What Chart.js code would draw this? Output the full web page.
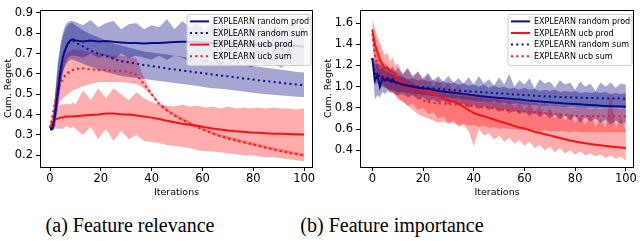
<!DOCTYPE html>
<html>
<head>
<meta charset="utf-8">
<script src="https://cdn.jsdelivr.net/npm/chart.js@4.4.1/dist/chart.umd.min.js"></script>
<style>
  html, body { margin: 0; padding: 0; background: #fff; }
  #wrap { position: relative; width: 640px; height: 241px; overflow: hidden; }
  canvas { position: absolute; top: 0; }
  .cap { position: absolute; top: 215px; font: 20px "Liberation Serif", "Times New Roman", serif; line-height: 20px; text-align: center; white-space: nowrap; color: #000; }
</style>
</head>
<body>
<div id="wrap">
  <canvas id="relevance" width="320" height="200" style="left:0"></canvas>
  <canvas id="importance" width="320" height="200" style="left:320px"></canvas>
  <div class="cap" style="left:30px;width:200px">(a) Feature relevance</div>
  <div class="cap" style="left:292px;width:200px">(b) Feature importance</div>
</div>
<script>
// (a) feature relevance
const relIters = [0,1,2,3,4,5,6,7,8,9,10,13,16,19,22,25,28,31,34,37,40,43,46,49,52,55,58,61,64,67,70,73,76,79,82,85,88,91,94,97,100];
const relRandomProd = [0.33,0.33,0.40,0.50,0.60,0.68,0.72,0.75,0.765,0.77,0.765,
  0.76,0.765,0.76,0.762,0.758,0.755,0.752,0.752,0.75,0.752,
  0.752,0.755,0.757,0.758,0.758,0.757,0.755,0.752,0.75,0.75,
  0.748,0.747,0.745,0.745,0.743,0.742,0.74,0.738,0.737,0.735];
const relRandomSum = [0.33,0.33,0.40,0.50,0.60,0.68,0.72,0.745,0.76,0.765,0.755,
  0.735,0.715,0.70,0.688,0.675,0.663,0.657,0.65,0.644,0.638,
  0.633,0.627,0.622,0.617,0.612,0.607,0.602,0.597,0.592,0.588,
  0.583,0.578,0.574,0.569,0.565,0.56,0.556,0.552,0.548,0.545];
const relUcbProd = [0.335,0.36,0.375,0.38,0.385,0.385,0.39,0.39,0.39,0.39,0.392,
  0.395,0.398,0.40,0.405,0.405,0.402,0.40,0.395,0.39,0.385,
  0.378,0.37,0.362,0.355,0.35,0.345,0.338,0.332,0.327,0.322,
  0.318,0.315,0.312,0.31,0.308,0.306,0.305,0.304,0.303,0.302];
const relUcbSum = [0.335,0.40,0.46,0.51,0.55,0.575,0.595,0.605,0.615,0.62,0.625,
  0.627,0.622,0.62,0.618,0.616,0.614,0.61,0.595,0.55,0.50,
  0.45,0.42,0.395,0.375,0.355,0.338,0.322,0.307,0.293,0.283,
  0.273,0.264,0.255,0.246,0.237,0.228,0.22,0.212,0.205,0.198];
const relRandomProdHi = [0.34,0.35,0.50,0.65,0.74,0.80,0.84,0.855,0.86,0.86,0.855,
  0.84,0.865,0.83,0.85,0.86,0.82,0.845,0.85,0.82,0.84,
  0.83,0.87,0.82,0.86,0.83,0.85,0.81,0.86,0.82,0.85,
  0.80,0.84,0.82,0.85,0.81,0.84,0.82,0.85,0.81,0.83];
const relRandomProdLo = [0.32,0.32,0.34,0.42,0.52,0.60,0.65,0.68,0.69,0.69,0.69,
  0.68,0.70,0.68,0.69,0.67,0.70,0.68,0.69,0.68,0.67,
  0.69,0.67,0.69,0.68,0.66,0.68,0.65,0.68,0.64,0.67,
  0.65,0.66,0.63,0.66,0.64,0.65,0.63,0.65,0.64,0.64];
const relRandomSumHi = [0.34,0.34,0.48,0.63,0.72,0.78,0.82,0.84,0.85,0.85,0.84,
  0.815,0.795,0.78,0.765,0.75,0.74,0.73,0.72,0.71,0.705,
  0.70,0.695,0.69,0.685,0.68,0.675,0.67,0.665,0.66,0.655,
  0.65,0.645,0.64,0.635,0.63,0.625,0.62,0.615,0.61,0.607];
const relRandomSumLo = [0.32,0.32,0.36,0.46,0.55,0.61,0.64,0.66,0.67,0.67,0.665,
  0.65,0.635,0.62,0.61,0.60,0.59,0.585,0.58,0.575,0.57,
  0.565,0.56,0.555,0.55,0.545,0.54,0.535,0.53,0.527,0.523,
  0.518,0.513,0.508,0.504,0.50,0.497,0.494,0.491,0.488,0.486];
const relUcbProdHi = [0.34,0.40,0.43,0.44,0.45,0.45,0.45,0.455,0.45,0.46,0.45,
  0.52,0.47,0.53,0.48,0.53,0.50,0.47,0.51,0.48,0.46,
  0.45,0.445,0.44,0.45,0.44,0.445,0.435,0.44,0.43,0.44,
  0.43,0.435,0.43,0.435,0.43,0.435,0.43,0.43,0.425,0.43];
const relUcbProdLo = [0.33,0.33,0.33,0.33,0.33,0.33,0.34,0.34,0.33,0.34,0.33,
  0.30,0.34,0.28,0.33,0.27,0.32,0.28,0.30,0.27,0.265,
  0.26,0.25,0.245,0.24,0.235,0.225,0.22,0.218,0.215,0.21,
  0.205,0.20,0.20,0.195,0.19,0.19,0.185,0.18,0.175,0.17];
const relUcbSumHi = [0.34,0.40,0.50,0.59,0.64,0.67,0.69,0.705,0.715,0.72,0.72,
  0.715,0.705,0.70,0.695,0.69,0.69,0.685,0.675,0.58,0.51,
  0.46,0.43,0.405,0.385,0.365,0.348,0.332,0.317,0.303,0.293,
  0.283,0.274,0.265,0.256,0.247,0.238,0.23,0.222,0.215,0.208];
const relUcbSumLo = [0.33,0.34,0.39,0.44,0.46,0.48,0.49,0.50,0.51,0.52,0.525,
  0.54,0.55,0.56,0.56,0.56,0.56,0.555,0.55,0.53,0.49,
  0.445,0.415,0.39,0.37,0.35,0.333,0.317,0.302,0.288,0.278,
  0.268,0.259,0.25,0.241,0.232,0.223,0.215,0.207,0.2,0.193];

// (b) feature importance
const impIters = [0,1,2,3,4,5,6,7,8,9,10,12,14,16,18,20,22,24,26,28,30,32,34,36,38,40,42,44,46,48,50,
  52,54,56,58,60,62,64,66,68,70,72,74,76,78,80,82,84,86,88,90,92,94,96,98,100];
const impRandomProd = [1.27,1.06,1.11,1.0,1.08,1.06,1.08,1.05,1.07,1.04,1.04,
  1.02,1.01,1.0,0.99,0.985,0.98,0.97,0.96,0.955,0.948,
  0.942,0.937,0.932,0.925,0.918,0.912,0.907,0.902,0.898,0.894,
  0.89,0.886,0.882,0.878,0.873,0.868,0.864,0.86,0.856,0.852,
  0.848,0.845,0.842,0.839,0.836,0.833,0.83,0.827,0.824,0.821,
  0.818,0.816,0.814,0.812,0.81];
const impRandomSum = [1.27,1.12,1.13,1.08,1.09,1.07,1.06,1.05,1.045,1.04,1.03,
  1.02,1.01,1.005,1.0,0.995,0.99,0.985,0.98,0.975,0.97,
  0.967,0.963,0.96,0.957,0.954,0.95,0.947,0.944,0.94,0.937,
  0.934,0.93,0.927,0.924,0.921,0.918,0.915,0.912,0.91,0.907,
  0.905,0.903,0.901,0.899,0.897,0.895,0.894,0.893,0.892,0.891,
  0.89,0.889,0.888,0.887,0.886];
const impUcbProd = [1.54,1.40,1.33,1.25,1.21,1.18,1.17,1.15,1.14,1.13,1.06,
  1.03,1.01,0.99,0.975,0.955,0.94,0.93,0.915,0.89,0.87,
  0.86,0.84,0.81,0.78,0.75,0.735,0.72,0.705,0.69,0.675,
  0.66,0.645,0.63,0.615,0.605,0.59,0.575,0.565,0.55,0.54,
  0.528,0.515,0.503,0.492,0.482,0.473,0.465,0.458,0.452,0.446,
  0.44,0.435,0.43,0.425,0.42];
const impUcbSum = [1.50,1.30,1.22,1.18,1.14,1.12,1.10,1.09,1.07,1.05,1.03,
  1.0,0.97,0.94,0.90,0.87,0.855,0.847,0.842,0.84,0.836,
  0.834,0.832,0.828,0.822,0.815,0.81,0.805,0.8,0.795,0.788,
  0.783,0.778,0.773,0.768,0.764,0.76,0.756,0.752,0.748,0.744,
  0.74,0.736,0.732,0.728,0.725,0.724,0.723,0.722,0.721,0.72,
  0.72,0.72,0.72,0.72,0.72];
const impRandomProdHi = [1.28,1.25,1.22,1.2,1.22,1.18,1.2,1.16,1.19,1.15,1.18,
  1.12,1.17,1.1,1.14,1.08,1.13,1.06,1.1,1.05,1.1,
  1.04,1.08,1.03,1.09,1.02,1.1,1.03,1.07,1.01,1.09,
  1.02,1.12,1.0,1.06,1.02,1.08,0.98,1.07,1.03,1.05,
  0.99,1.06,1.02,1.04,0.97,1.05,1.0,1.03,0.96,1.04,
  1.0,1.04,0.99,1.03,1.02];
const impRandomProdLo = [1.26,0.88,0.92,0.9,0.95,0.93,0.96,0.94,0.95,0.93,0.92,
  0.93,0.9,0.92,0.88,0.9,0.86,0.88,0.85,0.87,0.83,
  0.86,0.82,0.84,0.8,0.83,0.79,0.82,0.78,0.8,0.76,
  0.79,0.75,0.78,0.74,0.77,0.72,0.76,0.71,0.75,0.7,
  0.74,0.69,0.73,0.68,0.72,0.66,0.71,0.67,0.7,0.66,
  0.69,0.64,0.68,0.65,0.66];
const impRandomSumHi = [1.28,1.2,1.22,1.16,1.18,1.15,1.14,1.13,1.12,1.11,1.1,
  1.09,1.07,1.08,1.06,1.07,1.05,1.06,1.04,1.05,1.03,
  1.04,1.02,1.03,1.01,1.02,1.0,1.02,0.99,1.01,0.99,
  1.0,0.98,0.99,0.97,0.99,0.97,0.98,0.96,0.97,0.96,
  0.97,0.95,0.96,0.95,0.96,0.94,0.95,0.94,0.95,0.94,
  0.95,0.93,0.94,0.93,0.94];
const impRandomSumLo = [1.26,1.02,1.04,1.0,1.0,0.99,0.98,0.97,0.97,0.96,0.95,
  0.95,0.94,0.93,0.93,0.92,0.92,0.91,0.91,0.9,0.9,
  0.89,0.89,0.88,0.88,0.87,0.87,0.86,0.86,0.86,0.85,
  0.85,0.84,0.84,0.84,0.83,0.83,0.83,0.82,0.82,0.82,
  0.82,0.81,0.81,0.81,0.81,0.8,0.8,0.8,0.8,0.8,
  0.8,0.8,0.8,0.8,0.8];
const impUcbProdHi = [1.64,1.55,1.48,1.42,1.35,1.3,1.32,1.24,1.28,1.2,1.22,
  1.12,1.18,1.08,1.15,1.05,1.12,1.0,1.08,0.98,1.05,
  0.95,1.02,0.92,0.98,0.88,0.95,0.85,0.92,0.84,0.9,
  0.82,0.88,0.8,0.86,0.78,0.84,0.76,0.82,0.72,0.8,
  0.7,0.76,0.68,0.74,0.66,0.72,0.64,0.74,0.62,0.7,
  0.6,0.95,0.6,0.72,0.58];
const impUcbProdLo = [1.44,1.22,1.15,1.06,1.02,1.0,0.98,0.96,0.95,0.93,0.88,
  0.86,0.82,0.84,0.78,0.8,0.74,0.76,0.7,0.72,0.66,
  0.68,0.62,0.64,0.58,0.44,0.6,0.54,0.56,0.5,0.54,
  0.48,0.52,0.46,0.5,0.44,0.48,0.42,0.45,0.4,0.43,
  0.38,0.42,0.37,0.4,0.36,0.39,0.35,0.37,0.34,0.36,
  0.33,0.35,0.32,0.34,0.3];
const impUcbSumHi = [1.55,1.45,1.35,1.3,1.25,1.22,1.2,1.18,1.16,1.14,1.12,
  1.1,1.06,1.04,1.0,0.98,0.95,0.95,0.93,0.94,0.92,
  0.93,0.91,0.92,0.9,0.91,0.89,0.9,0.88,0.89,0.87,
  0.88,0.86,0.87,0.85,0.86,0.84,0.85,0.83,0.84,0.82,
  0.83,0.81,0.82,0.8,0.81,0.8,0.8,0.79,0.8,0.79,
  0.8,0.79,0.8,0.79,0.8];
const impUcbSumLo = [1.45,1.15,1.1,1.06,1.03,1.0,0.98,0.96,0.94,0.92,0.9,
  0.86,0.82,0.78,0.74,0.72,0.7,0.68,0.66,0.67,0.65,
  0.66,0.64,0.65,0.63,0.64,0.62,0.63,0.61,0.62,0.6,
  0.61,0.6,0.6,0.59,0.6,0.59,0.59,0.58,0.59,0.58,
  0.58,0.58,0.58,0.57,0.58,0.57,0.57,0.57,0.57,0.57,
  0.57,0.57,0.57,0.57,0.57];

const xTicks = [0, 20, 40, 60, 80, 100];
const relYTicks = [0.2, 0.3, 0.4, 0.5, 0.6, 0.7, 0.8, 0.9];
const impYTicks = [0.4, 0.6, 0.8, 1.0, 1.2, 1.4, 1.6];

const NAVY = '#0c0c82';
const RED = '#ff1010';
const NAVY_FILL = 'rgba(0,0,128,0.35)';
const RED_FILL = 'rgba(255,0,0,0.32)';
const FONT = 'DejaVu Sans';

function pts(xs, ys) {
  return xs.map((x, i) => ({ x: x, y: ys[i] }));
}

function band(xs, lo, hi, color) {
  return [
    { data: pts(xs, hi), fill: '+1', backgroundColor: color, borderColor: 'transparent', borderWidth: 0, pointRadius: 0, order: 2 },
    { data: pts(xs, lo), fill: false, borderColor: 'transparent', borderWidth: 0, pointRadius: 0, order: 2 }
  ];
}

function line(xs, ys, color, dotted) {
  return {
    data: pts(xs, ys), borderColor: color, borderWidth: 2, pointRadius: 0, fill: false,
    borderDash: dotted ? [2, 3.3] : [], borderCapStyle: 'butt', order: 1
  };
}

// frame round the plot area and a legend box inside its upper right corner
const boxLegend = {
  id: 'boxLegend',
  afterDraw(chart, args, opts) {
    const ctx = chart.ctx;
    const a = chart.chartArea;
    ctx.save();
    ctx.strokeStyle = '#000';
    ctx.lineWidth = 1;
    ctx.strokeRect(Math.round(a.left) + 0.5, Math.round(a.top) + 0.5,
      Math.round(a.right - a.left) - 1, Math.round(a.bottom - a.top));

    const x0 = a.right - 126, y0 = a.top + 4.5, w = 124, h = 51;
    ctx.beginPath();
    ctx.roundRect(x0, y0, w, h, 2);
    ctx.fillStyle = 'rgba(255,255,255,0.8)';
    ctx.fill();
    ctx.strokeStyle = '#cccccc';
    ctx.stroke();

    ctx.font = '8px "' + FONT + '"';
    ctx.textBaseline = 'middle';
    ctx.textAlign = 'left';
    opts.items.forEach((it, i) => {
      const y = y0 + 7 + i * 11.6;
      ctx.beginPath();
      ctx.strokeStyle = it.color;
      ctx.lineWidth = 2;
      ctx.setLineDash(it.dotted ? [2, 3.3] : []);
      ctx.moveTo(x0 + 3, y);
      ctx.lineTo(x0 + 22, y);
      ctx.stroke();
      ctx.setLineDash([]);
      ctx.fillStyle = '#000';
      ctx.fillText(it.label, x0 + 26, y + 0.5);
    });
    ctx.restore();
  }
};

function makeChart(id, datasets, yMin, yMax, yTicks, xMin, xMax, padRight, items) {
  return new Chart(document.getElementById(id), {
    type: 'line',
    data: { datasets: datasets },
    plugins: [boxLegend],
    options: {
      responsive: false,
      animation: false,
      events: [],
      devicePixelRatio: 1,
      layout: { padding: { top: 1, right: padRight, left: 0, bottom: 0 } },
      plugins: {
        legend: { display: false },
        tooltip: { enabled: false },
        boxLegend: { items: items }
      },
      scales: {
        x: {
          type: 'linear', min: xMin, max: xMax,
          afterBuildTicks: s => { s.ticks = xTicks.map(v => ({ value: v })); },
          afterFit: s => { s.height = 33; },
          border: { display: false },
          grid: { drawOnChartArea: false, drawTicks: true, tickLength: 4, tickColor: '#000', tickWidth: 1 },
          ticks: { color: '#000', font: { family: FONT, size: 11.5 }, padding: 1, maxRotation: 0, autoSkip: false,
                   callback: v => String(v) },
          title: { display: true, text: 'Iterations', color: '#000', font: { family: FONT, size: 9.5 },
                   padding: { top: 0, bottom: 1.3 } }
        },
        y: {
          type: 'linear', min: yMin, max: yMax,
          afterBuildTicks: s => { s.ticks = yTicks.map(v => ({ value: v })); },
          afterFit: s => { s.width = 40; },
          border: { display: false },
          grid: { drawOnChartArea: false, drawTicks: true, tickLength: 4, tickColor: '#000', tickWidth: 1 },
          ticks: { color: '#000', font: { family: FONT, size: 11.5 }, padding: 3, callback: v => v.toFixed(1) },
          title: { display: true, text: 'Cum. Regret', color: '#000', font: { family: FONT, size: 9.5 },
                   padding: { top: 3, bottom: 0 } }
        }
      }
    }
  });
}

makeChart('relevance', [
  line(relIters, relRandomProd, NAVY, false),
  line(relIters, relRandomSum, NAVY, true),
  line(relIters, relUcbProd, RED, false),
  line(relIters, relUcbSum, RED, true),
  ...band(relIters, relRandomProdLo, relRandomProdHi, NAVY_FILL),
  ...band(relIters, relRandomSumLo, relRandomSumHi, NAVY_FILL),
  ...band(relIters, relUcbProdLo, relUcbProdHi, RED_FILL),
  ...band(relIters, relUcbSumLo, relUcbSumHi, RED_FILL)
], 0.142, 0.915, relYTicks, -3.94, 103.5, 7, [
  { label: 'EXPLEARN random prod', color: NAVY, dotted: false },
  { label: 'EXPLEARN random sum', color: NAVY, dotted: true },
  { label: 'EXPLEARN ucb prod', color: RED, dotted: false },
  { label: 'EXPLEARN ucb sum', color: RED, dotted: true }
]);

makeChart('importance', [
  line(impIters, impRandomProd, NAVY, false),
  line(impIters, impUcbProd, RED, false),
  line(impIters, impRandomSum, NAVY, true),
  line(impIters, impUcbSum, RED, true),
  ...band(impIters, impRandomProdLo, impRandomProdHi, NAVY_FILL),
  ...band(impIters, impUcbProdLo, impUcbProdHi, RED_FILL),
  ...band(impIters, impRandomSumLo, impRandomSumHi, NAVY_FILL),
  ...band(impIters, impUcbSumLo, impUcbSumHi, RED_FILL)
], 0.2415, 1.725, impYTicks, -4.85, 103.2, 6, [
  { label: 'EXPLEARN random prod', color: NAVY, dotted: false },
  { label: 'EXPLEARN ucb prod', color: RED, dotted: false },
  { label: 'EXPLEARN random sum', color: NAVY, dotted: true },
  { label: 'EXPLEARN ucb sum', color: RED, dotted: true }
]);
</script>
</body>
</html>
